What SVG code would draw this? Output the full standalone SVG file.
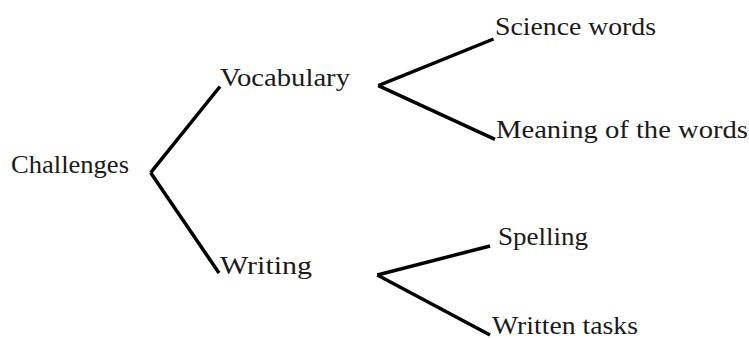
<svg xmlns="http://www.w3.org/2000/svg" width="749" height="338" viewBox="0 0 749 338">
<style>
text{font-family:'Liberation Serif','Times New Roman',Times,serif;font-size:25px;fill:#1a1a1a}
.c line{stroke:#000;stroke-width:3.5;stroke-linecap:butt}
</style>
<rect width="749" height="338" fill="#fff"/>
<g class="c" id="connectors">
<line x1="150.7" y1="172.7" x2="220" y2="86.5"/>
<line x1="150.7" y1="172.7" x2="219" y2="273"/>
<line x1="378.3" y1="85.7" x2="493.5" y2="39"/>
<line x1="378.3" y1="85.7" x2="495" y2="139.3"/>
<line x1="377.3" y1="275" x2="490" y2="246"/>
<line x1="377.3" y1="275" x2="490" y2="335"/>
</g>
<g id="challenges"><text x="11" y="173" textLength="118" lengthAdjust="spacingAndGlyphs">Challenges</text></g>
<g id="vocabulary"><text x="220" y="86" textLength="130" lengthAdjust="spacingAndGlyphs">Vocabulary</text></g>
<g id="writing"><text x="220" y="274" textLength="92" lengthAdjust="spacingAndGlyphs">Writing</text></g>
<g id="science"><text x="495" y="35" textLength="161" lengthAdjust="spacingAndGlyphs">Science words</text></g>
<g id="meaning"><text x="496" y="138" textLength="252" lengthAdjust="spacingAndGlyphs">Meaning of the words</text></g>
<g id="spelling"><text x="498" y="245" textLength="90" lengthAdjust="spacingAndGlyphs">Spelling</text></g>
<g id="written"><text x="492" y="334" textLength="146" lengthAdjust="spacingAndGlyphs">Written tasks</text></g>
</svg>
